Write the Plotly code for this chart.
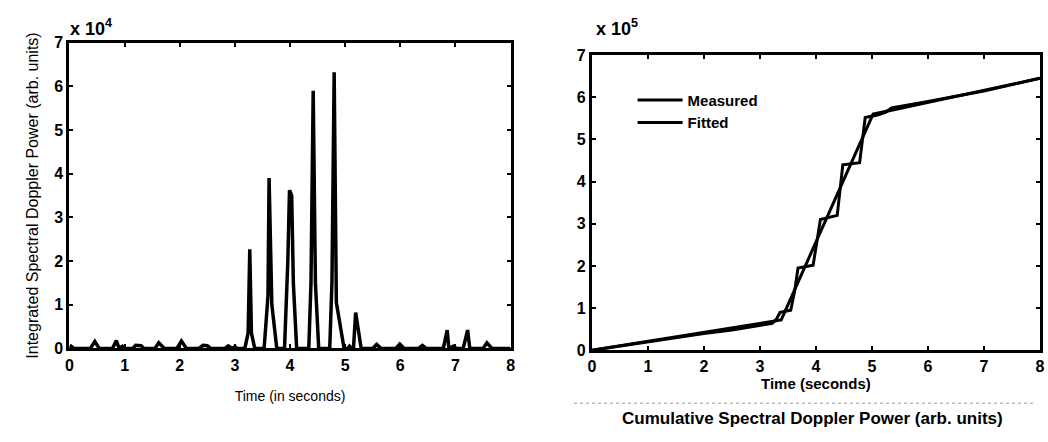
import plotly.graph_objects as go

# ---- Left panel: integrated spectral Doppler power (x 10^4) ----
time_left = [0.0, 0.03, 0.08, 0.38, 0.46, 0.54, 0.78, 0.85, 0.9, 0.96, 1.0, 1.15, 1.2, 1.3, 1.35,
             1.55, 1.62, 1.72, 1.95, 2.03, 2.12, 2.35, 2.42, 2.5, 2.56, 2.82, 2.88, 2.95, 3.0, 3.04,
             3.18, 3.24, 3.27, 3.3, 3.36, 3.53, 3.6, 3.62, 3.67, 3.76, 3.9, 3.96, 3.99, 4.03, 4.06,
             4.12, 4.34, 4.38, 4.42, 4.46, 4.52, 4.72, 4.76, 4.8, 4.84, 4.98, 5.05, 5.08, 5.12,
             5.15, 5.19, 5.23, 5.29, 5.5, 5.57, 5.65, 5.92, 5.99, 6.07, 6.33, 6.4, 6.47, 6.78,
             6.85, 6.88, 6.96, 7.02, 7.14, 7.22, 7.26, 7.5, 7.57, 7.66, 8.0]
power_left = [0, 0.05, 0, 0, 0.16, 0, 0, 0.18, 0, 0.05, 0, 0, 0.07, 0.06, 0,
              0, 0.13, 0, 0, 0.17, 0, 0, 0.07, 0.06, 0, 0, 0.06, 0, 0.04, 0,
              0, 0.35, 2.27, 0.35, 0, 0, 1.2, 3.9, 1.0, 0, 0, 2.0, 3.62, 3.5, 1.5,
              0, 0, 1.5, 5.9, 1.5, 0, 0, 1.5, 6.32, 1.05, 0, 0, 0.05, 0,
              0, 0.82, 0.5, 0, 0, 0.09, 0, 0, 0.1, 0, 0, 0.07, 0, 0,
              0.42, 0, 0.05, 0, 0, 0.42, 0, 0, 0.13, 0, 0]

# ---- Right panel: cumulative power (x 10^5) ----
time_meas = [0, 0.5, 1.0, 1.5, 2.0, 2.5, 3.0, 3.22, 3.3, 3.36, 3.55, 3.62, 3.68, 3.95, 4.02,
             4.08, 4.38, 4.43, 4.48, 4.78, 4.83, 4.88, 5.1, 5.25, 5.35, 6.0, 7.0, 8.0]
cum_meas = [0, 0.1, 0.2, 0.3, 0.4, 0.48, 0.58, 0.64, 0.75, 0.9, 0.95, 1.4, 1.95, 2.02, 2.6,
            3.1, 3.2, 3.8, 4.4, 4.45, 5.0, 5.52, 5.58, 5.65, 5.75, 5.9, 6.15, 6.45]
time_fit = [0, 3.38, 5.02, 8.0]
cum_fit = [0, 0.72, 5.6, 6.45]

x_ticks = [0, 1, 2, 3, 4, 5, 6, 7, 8]
y_ticks = [0, 1, 2, 3, 4, 5, 6, 7]

fig = go.Figure()
fig.add_trace(go.Scatter(x=time_left, y=power_left, mode="lines",
                         line=dict(color="black", width=3.5), showlegend=False,
                         xaxis="x", yaxis="y"))
fig.add_trace(go.Scatter(x=time_meas, y=cum_meas, mode="lines", name="Measured",
                         line=dict(color="black", width=3), xaxis="x2", yaxis="y2"))
fig.add_trace(go.Scatter(x=time_fit, y=cum_fit, mode="lines", name="Fitted",
                         line=dict(color="black", width=3), xaxis="x2", yaxis="y2"))

FONT = "Liberation Sans, Arial, sans-serif"
axis_common = dict(showline=True, linecolor="black", linewidth=3, mirror="allticks",
                   ticks="inside", ticklen=4, tickwidth=2, tickcolor="black",
                   showgrid=False, zeroline=False,
                   tickfont=dict(family=FONT, size=16, color="black", weight="bold"))

fig.update_layout(
    width=1048, height=442,
    margin=dict(l=0, r=0, t=0, b=0),
    paper_bgcolor="white", plot_bgcolor="white",
    font=dict(family=FONT, color="black"),
    xaxis=dict(domain=[0.063, 0.4876], range=[0, 8], tickvals=x_ticks, anchor="y",
               title=dict(text="Time (in seconds)", font=dict(size=14), standoff=19),
               **axis_common),
    yaxis=dict(domain=[0.199, 0.9186], range=[0, 7], tickvals=y_ticks, anchor="x",
               title=dict(text="Integrated Spectral Doppler Power (arb. units)",
                          font=dict(size=16), standoff=12),
               **axis_common),
    xaxis2=dict(domain=[0.5658, 0.9971], range=[0, 8], tickvals=x_ticks, anchor="y2",
                title=dict(text="<b>Time (seconds)</b>", font=dict(size=15), standoff=4),
                **axis_common),
    yaxis2=dict(domain=[0.1946, 0.8891], range=[0, 7], tickvals=y_ticks, anchor="x2",
                **axis_common),
    legend=dict(x=0.605, y=0.822, xanchor="left", yanchor="top", itemwidth=45,
                bgcolor="rgba(0,0,0,0)", tracegroupgap=0,
                font=dict(family=FONT, size=15, color="black", weight="bold")),
    annotations=[
        dict(text="x 10<sup>4</sup>", x=65 / 1048, y=(442 - 20) / 442,
             xref="paper", yref="paper",
             showarrow=False, xanchor="left", yanchor="middle",
             font=dict(size=18, weight="bold")),
        dict(text="x 10<sup>5</sup>", x=595 / 1048, y=(442 - 20) / 442,
             xref="paper", yref="paper",
             showarrow=False, xanchor="left", yanchor="middle",
             font=dict(size=18, weight="bold")),
        dict(text="<b>Cumulative Spectral Doppler Power (arb. units)</b>",
             x=816 / 1048, y=(442 - 427) / 442, xref="paper", yref="paper",
             showarrow=False, xanchor="center", yanchor="middle",
             font=dict(size=17)),
    ],
    shapes=[
        dict(type="line", xref="paper", yref="paper", x0=575 / 1048, x1=1040 / 1048,
             y0=(442 - 411) / 442, y1=(442 - 411) / 442,
             line=dict(color="#999999", width=1, dash="dot")),
    ],
)

fig.write_html("out.html")
